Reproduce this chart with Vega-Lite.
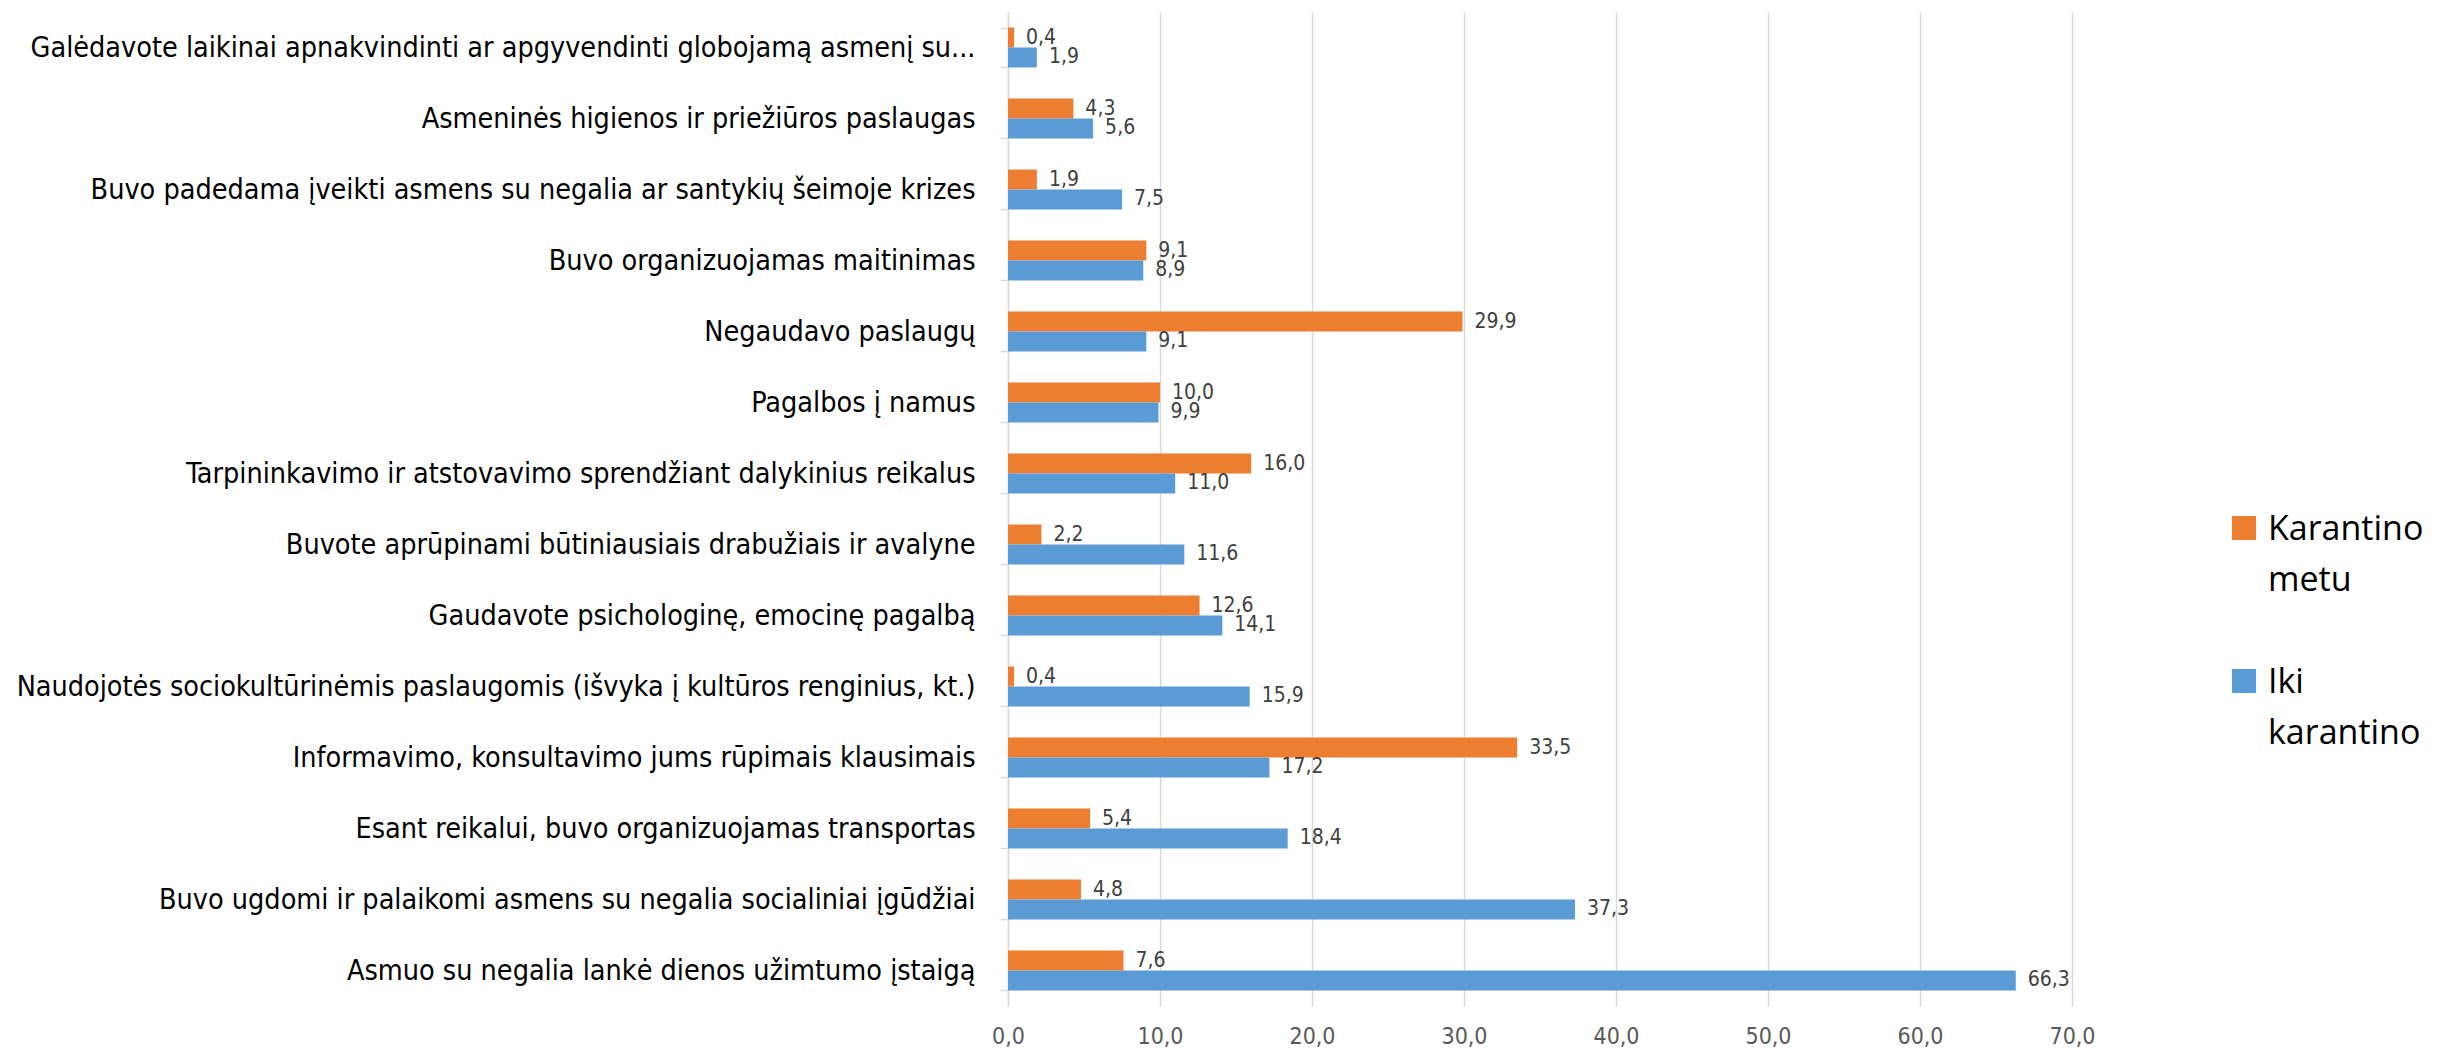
{
  "$schema": "https://vega.github.io/schema/vega-lite/v6.json",
  "width": 1064,
  "height": 994,
  "autosize": {"type": "none"},
  "padding": {"left": 1008, "top": 12, "right": 368, "bottom": 42},
  "background": "white",
  "config": {
    "view": {"stroke": null},
    "locale": {"number": {"decimal": ",", "thousands": " ", "grouping": [3], "currency": ["", " €"]}}
  },
  "data": {
    "values": [
      {"category": "Galėdavote laikinai apnakvindinti ar apgyvendinti globojamą asmenį su...", "series": "Karantino metu", "value": 0.4},
      {"category": "Galėdavote laikinai apnakvindinti ar apgyvendinti globojamą asmenį su...", "series": "Iki karantino", "value": 1.9},
      {"category": "Asmeninės higienos ir priežiūros paslaugas", "series": "Karantino metu", "value": 4.3},
      {"category": "Asmeninės higienos ir priežiūros paslaugas", "series": "Iki karantino", "value": 5.6},
      {"category": "Buvo padedama įveikti asmens su negalia ar santykių šeimoje krizes", "series": "Karantino metu", "value": 1.9},
      {"category": "Buvo padedama įveikti asmens su negalia ar santykių šeimoje krizes", "series": "Iki karantino", "value": 7.5},
      {"category": "Buvo organizuojamas maitinimas", "series": "Karantino metu", "value": 9.1},
      {"category": "Buvo organizuojamas maitinimas", "series": "Iki karantino", "value": 8.9},
      {"category": "Negaudavo paslaugų", "series": "Karantino metu", "value": 29.9},
      {"category": "Negaudavo paslaugų", "series": "Iki karantino", "value": 9.1},
      {"category": "Pagalbos į namus", "series": "Karantino metu", "value": 10.0},
      {"category": "Pagalbos į namus", "series": "Iki karantino", "value": 9.9},
      {"category": "Tarpininkavimo ir atstovavimo sprendžiant dalykinius reikalus", "series": "Karantino metu", "value": 16.0},
      {"category": "Tarpininkavimo ir atstovavimo sprendžiant dalykinius reikalus", "series": "Iki karantino", "value": 11.0},
      {"category": "Buvote aprūpinami būtiniausiais drabužiais ir avalyne", "series": "Karantino metu", "value": 2.2},
      {"category": "Buvote aprūpinami būtiniausiais drabužiais ir avalyne", "series": "Iki karantino", "value": 11.6},
      {"category": "Gaudavote psichologinę, emocinę pagalbą", "series": "Karantino metu", "value": 12.6},
      {"category": "Gaudavote psichologinę, emocinę pagalbą", "series": "Iki karantino", "value": 14.1},
      {"category": "Naudojotės sociokultūrinėmis paslaugomis (išvyka į kultūros renginius, kt.)", "series": "Karantino metu", "value": 0.4},
      {"category": "Naudojotės sociokultūrinėmis paslaugomis (išvyka į kultūros renginius, kt.)", "series": "Iki karantino", "value": 15.9},
      {"category": "Informavimo, konsultavimo jums rūpimais klausimais", "series": "Karantino metu", "value": 33.5},
      {"category": "Informavimo, konsultavimo jums rūpimais klausimais", "series": "Iki karantino", "value": 17.2},
      {"category": "Esant reikalui, buvo organizuojamas transportas", "series": "Karantino metu", "value": 5.4},
      {"category": "Esant reikalui, buvo organizuojamas transportas", "series": "Iki karantino", "value": 18.4},
      {"category": "Buvo ugdomi ir palaikomi asmens su negalia socialiniai įgūdžiai", "series": "Karantino metu", "value": 4.8},
      {"category": "Buvo ugdomi ir palaikomi asmens su negalia socialiniai įgūdžiai", "series": "Iki karantino", "value": 37.3},
      {"category": "Asmuo su negalia lankė dienos užimtumo įstaigą", "series": "Karantino metu", "value": 7.6},
      {"category": "Asmuo su negalia lankė dienos užimtumo įstaigą", "series": "Iki karantino", "value": 66.3}
    ]
  },
  "encoding": {
    "y": {
      "field": "category",
      "type": "nominal",
      "sort": null,
      "scale": {"paddingInner": 0.437, "paddingOuter": 0.2185},
      "axis": {
        "title": null,
        "grid": false,
        "domainColor": "#D9D9D9",
        "domainWidth": 1.5,
        "tickColor": "#D9D9D9",
        "tickWidth": 1.5,
        "tickSize": 8,
        "tickBand": "extent",
        "labelFont": "'Liberation Sans Narrow', 'DejaVu Sans Condensed', sans-serif",
        "labelFontSize": 28.5,
        "labelColor": "#000000",
        "labelPadding": 25,
        "labelLimit": 1000
      }
    },
    "yOffset": {"field": "series", "type": "nominal", "sort": ["Karantino metu", "Iki karantino"]},
    "x": {
      "field": "value",
      "type": "quantitative",
      "scale": {"domain": [0, 70], "nice": false},
      "axis": {
        "title": null,
        "values": [0, 10, 20, 30, 40, 50, 60, 70],
        "format": ".1f",
        "domain": false,
        "ticks": false,
        "grid": true,
        "gridColor": "#D9D9D9",
        "gridWidth": 1.5,
        "labelFont": "'Liberation Sans Narrow', 'DejaVu Sans Condensed', sans-serif",
        "labelFontSize": 23,
        "labelColor": "#595959",
        "labelPadding": 19,
        "labelFlush": false,
        "labelOverlap": false
      }
    }
  },
  "layer": [
    {
      "mark": {"type": "bar"},
      "encoding": {
        "color": {
          "field": "series",
          "type": "nominal",
          "scale": {"domain": ["Karantino metu", "Iki karantino"], "range": ["#ED7D31", "#5B9BD5"]},
          "legend": {
            "title": null,
            "orient": "none",
            "legendX": 1219,
            "legendY": 499,
            "padding": 0,
            "symbolType": "square",
            "symbolSize": 576,
            "symbolStrokeWidth": 0,
            "labelFont": "Open Sans",
            "labelFontSize": 34,
            "labelColor": "#000000",
            "labelOffset": 7,
            "labelLimit": 400,
            "labelBaseline": "alphabetic",
            "labelExpr": "split(datum.label, ' ')",
            "rowPadding": 66,
            "encoding": {"labels": {"lineHeight": {"value": 51}, "dy": {"value": 12}}}
          }
        }
      }
    },
    {
      "mark": {
        "type": "text",
        "align": "left",
        "baseline": "middle",
        "dx": 12,
        "font": "'Liberation Sans Narrow', 'DejaVu Sans Condensed', sans-serif",
        "fontSize": 21,
        "color": "#404040"
      },
      "encoding": {
        "text": {"field": "value", "type": "quantitative", "format": ".1f"}
      }
    }
  ]
}
